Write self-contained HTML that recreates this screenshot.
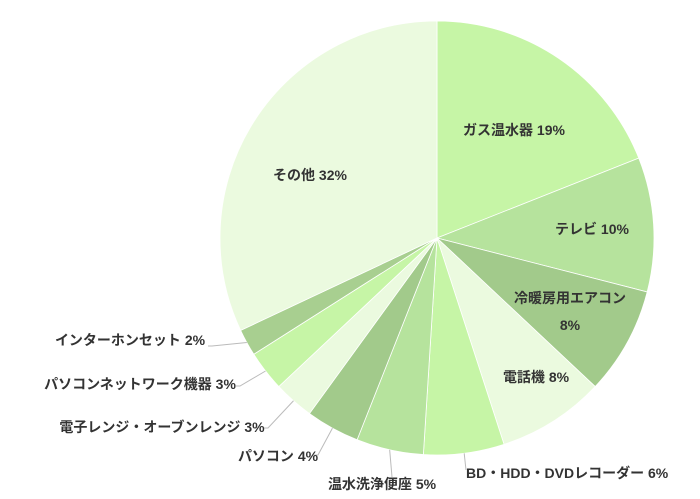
<!DOCTYPE html>
<html><head><meta charset="utf-8"><style>
html,body{margin:0;padding:0;background:#fff;}
svg{display:block;font-family:"Liberation Sans","Noto Sans CJK JP",sans-serif;}
text{font-size:14px;font-weight:bold;fill:#333;}
</style></head><body>
<svg id="chart" width="700" height="499" viewBox="0 0 700 499"></svg>
<script>
const categories=["ガス温水器","テレビ","冷暖房用エアコン","電話機","BD・HDD・DVDレコーダー","温水洗浄便座","パソコン","電子レンジ・オーブンレンジ","パソコンネットワーク機器","インターホンセット","その他"];
const values=[19,10,8,8,6,5,4,3,3,2,32];
const colors=["#c6f5a6","#b6e39d","#a2ca8b","#ebfadf","#c6f5a6","#b6e39d","#a2ca8b","#ebfadf","#c6f5a6","#a8cf90","#ebfadf"];
const cx=437,cy=238,r=217;
const svg=document.getElementById('chart');
const NS="http://www.w3.org/2000/svg";
const total=values.reduce((a,b)=>a+b,0);
function pt(a,rad){return [cx+rad*Math.sin(a),cy-rad*Math.cos(a)];}
let acc=0;
const mids=[];
values.forEach((v,i)=>{
  const a0=acc/total*2*Math.PI; acc+=v; const a1=acc/total*2*Math.PI;
  const p0=pt(a0,r),p1=pt(a1,r);
  const large=(a1-a0)>Math.PI?1:0;
  const path=document.createElementNS(NS,'path');
  path.setAttribute('d',`M${cx},${cy}L${p0[0]},${p0[1]}A${r},${r} 0 ${large} 1 ${p1[0]},${p1[1]}Z`);
  path.setAttribute('fill',colors[i]);
  path.setAttribute('stroke','#fff');
  path.setAttribute('stroke-width','0.8');
  
  
  svg.appendChild(path);
  mids.push((a0+a1)/2);
});
function label(txt,x,y,anchor,name){
  const t=document.createElementNS(NS,'text');
  t.setAttribute('x',x);t.setAttribute('y',y);t.setAttribute('text-anchor',anchor||'middle');
  t.textContent=txt;
  
  
  svg.appendChild(t);
}
// inside labels
const inside={0:[514,135],1:[592,234],3:[536,382],10:[310,180]};
Object.keys(inside).forEach(k=>{
  const i=+k;const p=inside[k];
  label(categories[i]+" "+values[i]+"%",p[0],p[1],'middle','label-'+i);
});
label(categories[2],570,303,'middle','label-2');
label(values[2]+"%",570,330,'middle','label-2-value');
// outside labels with leaders
const outside={4:[466,478,'start',466,470],5:[382,489,'middle',392,477],6:[278,461,'middle',318,455],7:[162,432,'middle',268,428],8:[140,389,'middle',240,386],9:[130,345,'middle',212,346]};
Object.keys(outside).forEach(k=>{
  const i=+k;const o=outside[k];
  const e=pt(mids[i],r);
  const ln=document.createElementNS(NS,'polyline');
  ln.setAttribute('points',`${e[0]},${e[1]} ${o[3]},${o[4]}`+(i<=5?'':` ${o[3]-4},${o[4]}`));
  ln.setAttribute('fill','none');ln.setAttribute('stroke','#bbb');ln.setAttribute('stroke-width','1');
  
  
  svg.appendChild(ln);
  label(categories[i]+" "+values[i]+"%",o[0],o[1],o[2],'label-'+i);
});
</script>
</body></html>
